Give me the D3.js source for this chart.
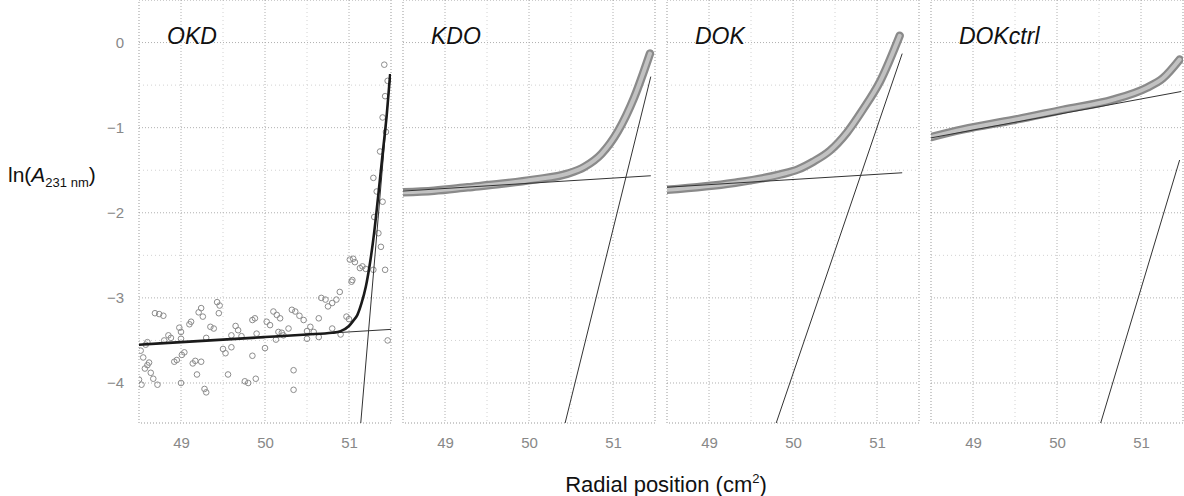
<!DOCTYPE html>
<html><head><meta charset="utf-8">
<script src="https://cdn.jsdelivr.net/npm/d3@7"></script>
<style>body{margin:0;background:#fff}text{font-family:"Liberation Sans",Arial,sans-serif}</style>
</head><body><svg id="c" width="1184" height="496"></svg>
<script>
// ---- data ----
const panels = ["OKD", "KDO", "DOK", "DOKctrl"];
const xTicks = [49, 50, 51];
const yTicks = [0, -1, -2, -3, -4];
const xMinor = [49.5, 50.5];
const yMinor = [-0.5, -1.5, -2.5, -3.5];

// OKD raw points
const okdX = [48.52,48.55,48.57,48.60,48.62,48.50,48.53,48.58,48.64,48.67,48.72,48.69,48.74,48.79,48.85,48.88,48.92,48.95,48.98,49.00,49.01,49.04,49.00,49.10,49.12,49.14,49.17,49.19,49.21,49.24,49.26,49.24,49.28,49.30,49.35,49.39,49.43,49.46,49.45,49.50,49.53,49.56,49.60,49.65,49.68,49.72,49.76,49.80,49.85,49.88,49.85,49.89,50.00,50.02,50.10,50.14,50.18,50.16,50.13,50.22,50.32,50.36,50.41,50.46,50.34,50.34,50.28,50.54,50.58,50.64,50.50,50.67,50.72,50.64,50.75,50.80,50.85,50.89,50.90,50.97,51.00,51.03,51.05,51.07,51.16,51.20,51.29,51.43,51.42,51.43,51.40,51.37,51.29,51.40,51.35,51.38,51.30,51.33,51.44,51.46,48.60,48.80,49.00,49.30,49.60,49.90,50.20,50.50,50.80,50.06,51.04,51.13,51.01,51.46];
const okdY = [-3.62,-3.70,-3.83,-3.79,-3.76,-3.96,-4.02,-3.55,-3.88,-3.95,-4.02,-3.18,-3.19,-3.21,-3.44,-3.47,-3.75,-3.73,-3.35,-3.40,-3.67,-3.64,-4.00,-3.31,-3.28,-3.77,-3.74,-3.90,-3.17,-3.12,-3.22,-3.75,-4.07,-4.11,-3.34,-3.36,-3.05,-3.09,-3.18,-3.60,-3.65,-3.90,-3.58,-3.33,-3.38,-3.45,-3.98,-4.00,-3.26,-3.24,-3.68,-3.95,-3.59,-3.28,-3.16,-3.20,-3.24,-3.40,-3.49,-3.44,-3.14,-3.16,-3.21,-3.26,-3.85,-4.08,-3.36,-3.34,-3.40,-3.46,-3.48,-3.00,-3.02,-3.24,-3.10,-3.06,-3.02,-2.93,-3.43,-3.22,-3.25,-2.81,-2.54,-2.58,-2.63,-2.66,-2.67,-2.67,-0.26,-0.63,-0.88,-1.28,-1.59,-1.87,-2.24,-2.40,-2.05,-1.75,-1.05,-0.45,-3.52,-3.50,-3.48,-3.47,-3.44,-3.42,-3.41,-3.39,-3.36,-3.32,-2.79,-2.65,-2.55,-3.50];
// OKD fitted curve
const okdCurveX = [48.5,49.0,49.5,50.0,50.5,50.8,50.9,51.0,51.05,51.1,51.15,51.2,51.25,51.3,51.35,51.4,51.45,51.49];
const okdCurveY = [-3.55,-3.52,-3.49,-3.46,-3.43,-3.41,-3.39,-3.33,-3.27,-3.20,-3.06,-2.87,-2.59,-2.23,-1.78,-1.31,-0.84,-0.37];

// dense data bands for the other panels
const kdoX = [48.5,48.87,49.27,49.67,50.06,50.46,50.66,50.86,51.06,51.25,51.44];
const kdoY = [-1.76,-1.74,-1.70,-1.66,-1.61,-1.54,-1.46,-1.31,-1.04,-0.65,-0.13];
const dokX = [48.5,49.29,49.85,50.06,50.24,50.44,50.64,50.83,51.04,51.27];
const dokY = [-1.73,-1.65,-1.55,-1.49,-1.40,-1.27,-1.06,-0.79,-0.45,0.08];
const ctrlX = [48.5,48.88,49.48,50.07,50.67,51.07,51.26,51.46];
const ctrlY = [-1.11,-1.02,-0.91,-0.79,-0.67,-0.53,-0.42,-0.20];

// fitted straight lines [x0, x1] and [y0, y1]
const baseX = [[48.5,51.5],[48.5,51.45],[48.5,51.3],[48.5,51.48]];
const baseY = [[-3.55,-3.37],[-1.745,-1.565],[-1.70,-1.53],[-1.12,-0.575]];
const steepX = [[51.14,51.49],[50.43,51.45],[49.80,51.30],[50.52,51.46]];
const steepY = [[-4.47,-0.40],[-4.47,-0.40],[-4.47,-0.13],[-4.47,-1.38]];

// ---- drawing ----
const svg = d3.select("#c");
const left0 = 139, pw = 252, gap = 12, ph = 423;
const x = d3.scaleLinear().domain([48.5, 51.5]).range([0, pw]);
const y = d3.scaleLinear().domain([-4.47, 0.5]).range([ph, 0]);
const line = d3.line().x(d => x(d[0])).y(d => y(d[1]));

const bands = [null, [kdoX, kdoY], [dokX, dokY], [ctrlX, ctrlY]];

panels.forEach((name, i) => {
  const g = svg.append("g").attr("transform", `translate(${left0 + i * (pw + gap)},0)`);
  g.append("clipPath").attr("id", "clip" + i).append("rect").attr("width", pw).attr("height", ph);
  // grid
  g.selectAll(".gmx").data(xMinor).join("line").attr("x1", d => x(d)).attr("x2", d => x(d))
    .attr("y1", 0).attr("y2", ph).attr("stroke", "#d2d2d2").attr("stroke-dasharray", "1,3");
  g.selectAll(".gmy").data(yMinor).join("line").attr("y1", d => y(d)).attr("y2", d => y(d))
    .attr("x1", 0).attr("x2", pw).attr("stroke", "#d2d2d2").attr("stroke-dasharray", "1,3");
  g.selectAll(".gx").data(xTicks).join("line").attr("x1", d => x(d)).attr("x2", d => x(d))
    .attr("y1", 0).attr("y2", ph).attr("stroke", "#b0b0b0").attr("stroke-dasharray", "1,2");
  g.selectAll(".gy").data(yTicks).join("line").attr("y1", d => y(d)).attr("y2", d => y(d))
    .attr("x1", 0).attr("x2", pw).attr("stroke", "#b0b0b0").attr("stroke-dasharray", "1,2");
  g.append("rect").attr("width", pw).attr("height", ph).attr("fill", "none")
    .attr("stroke", "#999").attr("stroke-dasharray", "1,2");

  const c = g.append("g").attr("clip-path", `url(#clip${i})`);
  if (i === 0) {
    c.selectAll("circle").data(okdX.map((v, k) => [v, okdY[k]])).join("circle")
      .attr("cx", d => x(d[0])).attr("cy", d => y(d[1])).attr("r", 2.8)
      .attr("fill", "none").attr("stroke", "#8c8c8c").attr("stroke-width", 1);
  } else {
    const pts = bands[i][0].map((v, k) => [v, bands[i][1][k]]);
    const cl = d3.line().x(d => x(d[0])).y(d => y(d[1])).curve(d3.curveMonotoneX);
    c.append("path").attr("d", cl(pts)).attr("fill", "none").attr("stroke", "#8a8a8a")
      .attr("stroke-width", 8.5).attr("stroke-linecap", "round");
    c.append("path").attr("d", cl(pts)).attr("fill", "none").attr("stroke", "#c2c2c2")
      .attr("stroke-width", 4).attr("stroke-linecap", "round");
  }
  // straight fits
  c.append("path").attr("d", line([[baseX[i][0], baseY[i][0]], [baseX[i][1], baseY[i][1]]]))
    .attr("stroke", "#333").attr("stroke-width", 1).attr("fill", "none");
  c.append("path").attr("d", line([[steepX[i][0], steepY[i][0]], [steepX[i][1], steepY[i][1]]]))
    .attr("stroke", "#333").attr("stroke-width", 1).attr("fill", "none");
  if (i === 0) {
    c.append("path").attr("d", d3.line().x(d => x(d[0])).y(d => y(d[1])).curve(d3.curveMonotoneX)(okdCurveX.map((v, k) => [v, okdCurveY[k]])))
      .attr("stroke", "#1a1a1a").attr("stroke-width", 2.6).attr("fill", "none");
  }
  // panel label
  g.append("text").attr("x", 28).attr("y", 44).attr("font-size", 23).attr("font-style", "italic")
    .attr("fill", "#111").text(name);
  // x axis
  const ax = g.append("g").attr("transform", `translate(0,${ph})`)
    .call(d3.axisBottom(x).tickValues(xTicks).tickSize(0).tickPadding(14).tickFormat(d3.format("d")));
  ax.select(".domain").remove();
  ax.selectAll("text").attr("font-size", 15).attr("fill", "#888").style("font-family", "Liberation Sans, Arial, sans-serif");
  if (i === 0) {
    const ay = g.append("g").call(d3.axisLeft(y).tickValues(yTicks).tickSize(0).tickPadding(15).tickFormat(d3.format("d")));
    ay.select(".domain").remove();
    ay.selectAll("text").attr("font-size", 15).attr("fill", "#888").style("font-family", "Liberation Sans, Arial, sans-serif");
  }
});

// axis titles
const yt = svg.append("text").attr("x", 8).attr("y", 182).attr("font-size", 21).attr("fill", "#111");
yt.append("tspan").text("ln(");
yt.append("tspan").attr("font-style", "italic").text("A");
yt.append("tspan").attr("font-size", 13).attr("dy", 5).text("231 nm");
yt.append("tspan").attr("dy", -5).text(")");

const xt = svg.append("text").attr("x", 666).attr("y", 492).attr("text-anchor", "middle")
  .attr("font-size", 22).attr("fill", "#111");
xt.append("tspan").text("Radial position (cm");
xt.append("tspan").attr("font-size", 13).attr("dy", -9).text("2");
xt.append("tspan").attr("dy", 9).text(")");
</script></body></html>
